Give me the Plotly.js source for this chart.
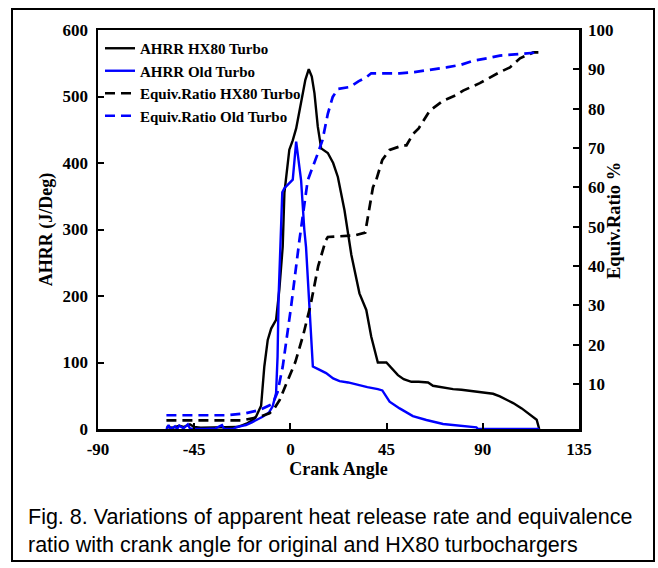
<!DOCTYPE html>
<html>
<head>
<meta charset="utf-8">
<script src="https://cdn.plot.ly/plotly-3.0.1.min.js"></script>
<style>
html,body{margin:0;padding:0;background:#fff;}
#chart{width:658px;height:568px;}
</style>
</head>
<body>
<div id="chart"></div>
<script>
// Crank angle (deg) and AHRR (J/Deg) for HX80 turbo
const hx80AhrrAngle = [-58,-55,-52,-50,-47,-45,-42,-38,-35,-30,-25,-22.3,-20,-17.6,-16.1,-13.7,-12.2,-10.6,-9,-6.7,-5.2,-3.6,-2.8,-0.5,1.1,2.7,5,7,8.6,10,11.25,12.8,14.4,17.5,20,22.2,25.3,27.7,28.5,32.3,35.5,37.8,40.9,44.9,47,50.3,53,56.6,60,64.4,66.7,69.9,73,76.1,80,83,87,91,94.8,98,101.1,104.2,108.2,110.5,113.6,115.2,116.4];
const hx80Ahrr = [3,2,5,3,7,3,2,2,2,2,3,6,9,13.5,18.5,35,94,134,151,164,209,274,355,420,434,452,490,525,541,530,505,455,422,415,400,379,329,274,262,204,179,139,100,100,92,81,75,71,71,70,65,63,62,60,59,58,56,55,53,49,44,39,31,25,18,14,0];

// Crank angle and AHRR for old turbo
const oldAhrrAngle = [-58,-57,-56,-54,-53,-52,-50,-48,-47,-45,-40,-35,-32,-31,-27,-25,-22,-20.8,-18,-15,-13,-10,-8.3,-6.7,-6,-5.5,-4.6,-3.8,-2.8,1.1,2.7,5,6.5,7.3,8.9,10.5,13,16.7,20,23,27,31.6,36,40.9,43,46.4,51.1,57.3,63.6,71.4,80.8,87,87.8,100,116.4];
const oldAhrr = [0,6,0,4,0,5,1,7,1,0,0,1,6,0,0,3,5,6,10,15,18.5,25,34,54,109,200,300,356,362,375,432,374,300,274,184,94,90,84,76,72,70,66,63,60,58,41,31,19.5,13.5,7.5,4.5,2.5,0,0,0];

// Crank angle and equivalence ratio (%) for HX80 turbo
const hx80EqAngle = [-58,-40,-22.4,-14.5,-9.8,-8,-5,-2,2.3,6,9.4,13,16.5,17.5,25,30,35,38.6,40.2,43,46.4,52.7,54.3,57.4,60,65.2,71.4,77.7,80.8,88.6,98,101.1,102.7,107.4,113.6,116];
const hx80Eq = [0.8,0.8,0.8,1.7,2.6,3.4,6,10,15.6,22.5,30,40,46.5,47.4,47.6,47.8,48.5,60,62,67,69.5,70.7,70.7,73.6,75,79.5,82,83.5,84.6,86.5,89.3,90.1,90.5,92.8,94.3,94.3];

// Crank angle and equivalence ratio (%) for old turbo
const oldEqAngle = [-58,-30,-20.8,-14.5,-8.3,-6,-3.6,0.3,4.2,8.1,12.8,15,17.5,19.8,22.2,27.7,32,35.5,37.8,45,51.1,58,63.6,68,73,80,85.5,92,98,105,113.6,115.8];
const oldEq = [2.1,2.1,2.6,3.4,5,8,14.4,29.6,46.5,61.8,68.6,72,78.7,83,85,85.5,87,88,89,89,89,89.3,89.7,90,90.5,91.2,92.2,92.8,93.5,93.8,94.3,94.3];

const seriesNames = ["AHRR HX80 Turbo","AHRR Old Turbo","Equiv.Ratio HX80 Turbo","Equiv.Ratio Old Turbo"];
const xTicks = [-90,-45,0,45,90,135];
const yTicks = [0,100,200,300,400,500,600];
const y2Ticks = [10,20,30,40,50,60,70,80,90,100];
const y2Title = "Equiv.Ratio %";
const caption = "Fig. 8. Variations of apparent heat release rate and equivalence<br>ratio with crank angle for original and HX80 turbochargers";

const serif = {family:"Liberation Serif, Times New Roman, serif", color:"#000", weight:700};

const traces = [
  {x:hx80AhrrAngle, y:hx80Ahrr, name:seriesNames[0], mode:"lines", line:{color:"#000000", width:2.4}, yaxis:"y"},
  {x:oldAhrrAngle, y:oldAhrr, name:seriesNames[1], mode:"lines", line:{color:"#0000ff", width:2.4}, yaxis:"y"},
  {x:hx80EqAngle, y:hx80Eq, name:seriesNames[2], mode:"lines", line:{color:"#000000", width:2.7, dash:"10px,6px"}, yaxis:"y2"},
  {x:oldEqAngle, y:oldEq, name:seriesNames[3], mode:"lines", line:{color:"#0000ff", width:2.7, dash:"10px,6px"}, yaxis:"y2"}
];

const L=98, R=579, T=30, B=429;
const px = v => (v-L)/(R-L);
const py = v => (B-v)/(B-T);

const layout = {
  width:658, height:568,
  margin:{l:L, r:658-R, t:T, b:568-B, pad:0},
  paper_bgcolor:"#fff", plot_bgcolor:"#fff",
  showlegend:true,
  legend:{x:px(100), y:py(32), xanchor:"left", yanchor:"top", bgcolor:"rgba(0,0,0,0)",
          font:Object.assign({size:15}, serif), tracegroupgap:0, itemwidth:30},
  xaxis:{range:[-90,135], tickvals:xTicks, ticktext:xTicks.map(String), ticks:"inside", ticklen:6, tickwidth:2,
         tickcolor:"#000", showline:true, linewidth:2.5, linecolor:"#000", mirror:true, zeroline:false, showgrid:false,
         tickfont:Object.assign({size:17}, serif), ticklabelstandoff:3,
         title:{text:"Crank Angle", font:Object.assign({size:18}, serif), standoff:0}},
  yaxis:{range:[0,600], tickvals:yTicks, ticks:"inside", ticklen:6, tickwidth:2, tickcolor:"#000",
         showline:true, linewidth:2.5, linecolor:"#000", zeroline:false, showgrid:false,
         tickfont:Object.assign({size:17}, serif), ticklabelstandoff:4,
         title:{text:"AHRR (J/Deg)", font:Object.assign({size:18}, serif), standoff:6}},
  yaxis2:{range:[-1.4,100], tickvals:y2Ticks, overlaying:"y", side:"right", ticks:"inside", ticklen:6, tickwidth:2,
          tickcolor:"#000", showline:true, linewidth:2.5, linecolor:"#000", zeroline:false, showgrid:false,
          tickfont:Object.assign({size:17}, serif), ticklabelstandoff:3},
  shapes:[
    {type:"rect", xref:"paper", yref:"paper", x0:px(12), x1:px(654), y0:py(561), y1:py(9),
     line:{color:"#000", width:2}, fillcolor:"rgba(0,0,0,0)", layer:"below"}
  ],
  annotations:[
    {xref:"paper", yref:"paper", x:px(614), y:py(221), xanchor:"center", yanchor:"middle", textangle:-90,
     text:y2Title, showarrow:false, font:Object.assign({size:18.5}, serif)},
    {xref:"paper", yref:"paper", x:px(26), y:py(503), xanchor:"left", yanchor:"top", align:"left",
     text:caption, showarrow:false,
     font:{family:"Liberation Sans, Arial, sans-serif", size:21.5, color:"#000"}}
  ]
};

Plotly.newPlot("chart", traces, layout, {displayModeBar:false, staticPlot:true});
</script>
</body>
</html>
